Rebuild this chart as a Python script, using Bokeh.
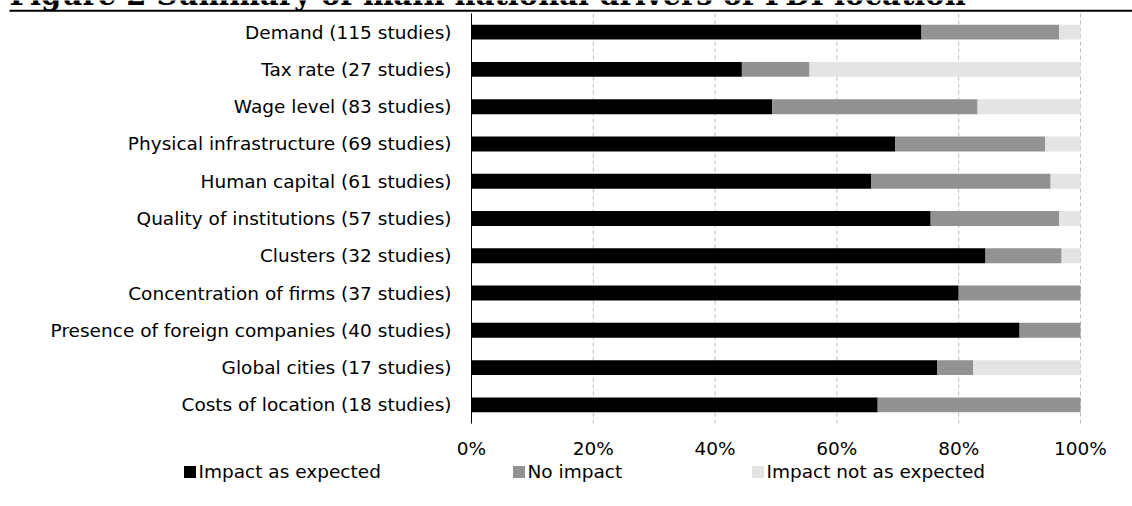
from bokeh.plotting import figure
from bokeh.models import (ColumnDataSource, Range1d, FixedTicker,
                          PrintfTickFormatter, Legend, LegendItem)
from bokeh.embed import file_html
from bokeh.resources import INLINE
from bokeh.core.properties import value

# --- data: share of studies (%) per driver -------------------------------
drivers = [
    "Demand (115 studies)",
    "Tax rate (27 studies)",
    "Wage level (83 studies)",
    "Physical infrastructure (69 studies)",
    "Human capital (61 studies)",
    "Quality of institutions (57 studies)",
    "Clusters (32 studies)",
    "Concentration of firms (37 studies)",
    "Presence of foreign companies (40 studies)",
    "Global cities (17 studies)",
    "Costs of location (18 studies)",
]
impact_expected = [73.9, 44.4, 49.4, 69.6, 65.6, 75.4, 84.4, 80.0, 90.0, 76.5, 66.7]
no_impact = [22.6, 11.1, 33.7, 24.6, 29.5, 21.1, 12.5, 20.0, 10.0, 5.9, 33.3]
impact_not_expected = [3.5, 44.5, 16.9, 5.8, 4.9, 3.5, 3.1, 0.0, 0.0, 17.6, 0.0]

series_labels = ["Impact as expected", "No impact", "Impact not as expected"]
tick_values = [0, 20, 40, 60, 80, 100]
title_text = "Figure 2 Summary of main national drivers of FDI location"

# --- page geometry (pixels) ----------------------------------------------
W, H = 1132, 506
X_ZERO, X_FULL = 471, 1080        # columns of 0 % and 100 %
CAT_TOP, CAT_BOTTOM = 13, 423     # rows bounding the category band
n = len(drivers)
ppx = (X_FULL - X_ZERO) / 100.0
ppy = (CAT_BOTTOM - CAT_TOP) / n
x_start = -X_ZERO / ppx
x_end = 100 + (W - X_FULL) / ppx
y_start = -0.5 - (H - CAT_BOTTOM) / ppy
y_end = n - 0.5 + CAT_TOP / ppy


def px_to_x(px):
    return x_start + px / ppx


def py_to_y(py):
    return y_end - py / ppy


# --- styling -------------------------------------------------------------
SANS = "DejaVu Sans"
SERIF = "DejaVu Serif"
FONT_SIZE = "18.5px"
bar_colors = ["#000000", "#929292", "#e4e4e4"]

positions = [n - 1 - i for i in range(n)]   # first driver on top

source = ColumnDataSource(dict(
    pos=positions,
    expected=impact_expected,
    none=no_impact,
    contrary=impact_not_expected,
))

p = figure(width=W, height=H,
           x_range=Range1d(x_start, x_end), y_range=Range1d(y_start, y_end),
           output_backend="svg", toolbar_location=None, min_border=0)
p.outline_line_color = None
p.xgrid.visible = False
p.ygrid.visible = False

# heading (runs off the top edge) and the rule beneath it
p.text(x=[px_to_x(9)], y=[py_to_y(-6)], text=[title_text], text_font=value(SERIF),
       text_font_style="bold", text_font_size="29px", text_baseline="alphabetic",
       text_color="#000000")
p.segment(x0=[px_to_x(9)], y0=[py_to_y(10.2)], x1=[px_to_x(W)], y1=[py_to_y(10.2)],
          line_width=2, line_color="#000000")

# dashed vertical guides at each percentage tick
p.segment(x0=tick_values, y0=[-0.5] * len(tick_values),
          x1=tick_values, y1=[n - 0.5] * len(tick_values),
          line_color="#bdbdbd", line_width=1, line_dash="4 3")

renderers = p.hbar_stack(["expected", "none", "contrary"], y="pos", height=0.4,
                         fill_color=bar_colors, line_color=None, source=source)

# x axis: percentage labels under the bars
xa = p.xaxis[0]
xa.fixed_location = -0.5
xa.ticker = FixedTicker(ticks=tick_values)
xa.formatter = PrintfTickFormatter(format="%d%%")
xa.axis_line_color = None
xa.major_tick_line_color = None
xa.minor_tick_line_color = None
xa.major_tick_out = 0
xa.major_tick_in = 0
xa.major_label_standoff = 14
xa.major_label_text_font = SANS
xa.major_label_text_font_size = FONT_SIZE
xa.major_label_text_color = "#000000"

# y axis: driver names at the 0 % line
ya = p.yaxis[0]
ya.fixed_location = 0
ya.bounds = (-0.5, n - 0.5)
ya.ticker = FixedTicker(ticks=positions)
ya.major_label_overrides = {pos: name for pos, name in zip(positions, drivers)}
ya.axis_line_color = "#000000"
ya.axis_line_width = 1
ya.major_tick_line_color = None
ya.minor_tick_line_color = None
ya.major_tick_out = 0
ya.major_tick_in = 0
ya.major_label_standoff = 20
ya.major_label_text_font = SANS
ya.major_label_text_font_size = FONT_SIZE
ya.major_label_text_color = "#000000"

# one legend per series, laid out in a row under the axis
legend_x = [181.5, 510.5, 749.5]
for r, label, lx in zip(renderers, series_labels, legend_x):
    lg = Legend(items=[LegendItem(label=label, renderers=[r])],
                location=(lx, 24), orientation="horizontal",
                glyph_width=15, glyph_height=15, label_standoff=2,
                padding=0, margin=0, spacing=0,
                border_line_color=None, background_fill_alpha=0,
                label_text_font=SANS, label_text_font_size=FONT_SIZE,
                label_text_color="#000000")
    p.add_layout(lg)

with open("out.html", "w") as f:
    f.write(file_html(p, INLINE))
